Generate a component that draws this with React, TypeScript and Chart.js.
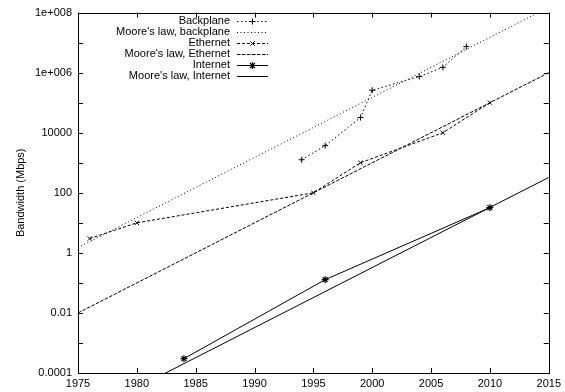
import React, { useEffect, useRef } from 'react';
import { Chart, registerables } from 'chart.js';
import { drawPoint } from 'chart.js/helpers';

Chart.register(...registerables);

// ---- Data ----
const backplaneYears = [1994, 1996, 1999, 2000, 2004, 2006, 2008];
const backplaneMbps = [1260, 3700, 32000, 260000, 740000, 1500000, 7400000];

const mooreBackplaneYears = [1975, 2015];
const mooreBackplaneMbps = [1.5, 1.5e8];

const ethernetYears = [1976, 1980, 1995, 1999, 2006, 2010];
const ethernetMbps = [3, 10, 100, 1000, 10000, 100000];

const mooreEthernetYears = [1975, 2015];
const mooreEthernetMbps = [0.01, 1e6];

const internetYears = [1984, 1996, 2010];
const internetMbps = [0.0003, 0.128, 32];

const mooreInternetYears = [1975, 2015];
const mooreInternetMbps = [3.25e-6, 325];

const xTickValues = [1975, 1980, 1985, 1990, 1995, 2000, 2005, 2010, 2015];
const xTickLabels = ['1975', '1980', '1985', '1990', '1995', '2000', '2005', '2010', '2015'];

const yTickValues = [1e-4, 1e-3, 1e-2, 1e-1, 1, 10, 100, 1e3, 1e4, 1e5, 1e6, 1e7, 1e8];
const yTickLabels = ['0.0001', '', '0.01', '', '1', '', '100', '', '10000', '', '1e+006', '', '1e+008'];

const yTitle = 'Bandwidth (Mbps)';

const FONT = "'Liberation Sans', Arial, Helvetica, sans-serif";

const pts = (xs: number[], ys: number[]) => xs.map((x, i) => ({ x, y: ys[i] }));

const framePlugin = {
  id: 'gnuplotFrame',
  afterDraw(chart: any) {
    const { ctx, chartArea, scales } = chart;
    const { left, right, top, bottom } = chartArea;
    const xs = scales.x;
    const ys = scales.y;
    ctx.save();
    ctx.strokeStyle = '#000';
    ctx.lineWidth = 1;
    ctx.setLineDash([]);
    const TL = 5;
    ctx.beginPath();
    yTickValues.forEach((v) => {
      const py = Math.round(ys.getPixelForValue(v)) + 0.5;
      ctx.moveTo(left, py);
      ctx.lineTo(left + TL, py);
      ctx.moveTo(right, py);
      ctx.lineTo(right - TL, py);
    });
    xTickValues.forEach((v) => {
      const px = Math.round(xs.getPixelForValue(v)) + 0.5;
      ctx.moveTo(px, bottom);
      ctx.lineTo(px, bottom - TL);
      ctx.moveTo(px, top);
      ctx.lineTo(px, top + TL);
    });
    ctx.stroke();
    ctx.strokeRect(Math.round(left) + 0.5, Math.round(top) + 0.5, Math.round(right - left), Math.round(bottom - top));

    // legend (gnuplot style: right-aligned text, sample at right)
    const textRight = 230;
    const sx0 = 237;
    const sx1 = 268;
    const y0 = 20.7;
    const step = 11.1;
    ctx.font = `11px ${FONT}`;
    ctx.textAlign = 'right';
    ctx.textBaseline = 'middle';
    chart.data.datasets.forEach((ds: any, i: number) => {
      const y = y0 + i * step;
      ctx.fillStyle = '#000';
      ctx.fillText(ds.label, textRight, y);
      ctx.save();
      ctx.strokeStyle = ds.borderColor;
      ctx.lineWidth = ds.borderWidth;
      ctx.setLineDash(ds.borderDash || []);
      ctx.beginPath();
      ctx.moveTo(sx0, Math.round(y) + 0.5);
      ctx.lineTo(sx1, Math.round(y) + 0.5);
      ctx.stroke();
      ctx.restore();
      if (ds.pointRadius > 0) {
        ctx.save();
        ctx.setLineDash([]);
        ctx.strokeStyle = ds.pointBorderColor;
        ctx.fillStyle = ds.pointBorderColor;
        ctx.lineWidth = ds.pointBorderWidth;
        drawPoint(ctx, { pointStyle: ds.pointStyle, radius: ds.pointRadius, rotation: 0, borderWidth: ds.pointBorderWidth } as any, (sx0 + sx1) / 2, Math.round(y) + 0.5);
        ctx.restore();
      }
    });
    ctx.restore();
  },
};

export default function App() {
  const ref = useRef<HTMLCanvasElement | null>(null);

  useEffect(() => {
    if (!ref.current) return;
    Chart.defaults.font.family = FONT;
    Chart.defaults.font.size = 11;
    Chart.defaults.color = '#000';

    const common = {
      borderColor: '#000',
      borderWidth: 1,
      tension: 0,
      fill: false,
      pointBorderColor: '#000',
      pointBackgroundColor: '#000',
    };

    const chart = new Chart(ref.current, {
      type: 'line',
      data: {
        datasets: [
          {
            ...common,
            label: 'Backplane',
            data: pts(backplaneYears, backplaneMbps),
            borderDash: [1.5, 2.5],
            pointStyle: 'cross',
            pointRadius: 3,
            pointBorderWidth: 1,
          },
          {
            ...common,
            label: "Moore's law, backplane",
            data: pts(mooreBackplaneYears, mooreBackplaneMbps),
            borderDash: [1, 2.5],
            pointRadius: 0,
            pointBorderWidth: 0,
          },
          {
            ...common,
            label: 'Ethernet',
            data: pts(ethernetYears, ethernetMbps),
            borderDash: [3, 2],
            pointStyle: 'crossRot',
            pointRadius: 3,
            pointBorderWidth: 1,
          },
          {
            ...common,
            label: "Moore's law, Ethernet",
            data: pts(mooreEthernetYears, mooreEthernetMbps),
            borderDash: [3.5, 1.5],
            pointRadius: 0,
            pointBorderWidth: 0,
          },
          {
            ...common,
            label: 'Internet',
            data: pts(internetYears, internetMbps),
            borderDash: [],
            pointStyle: 'star',
            pointRadius: 3.5,
            pointBorderWidth: 1.2,
          },
          {
            ...common,
            label: "Moore's law, Internet",
            data: pts(mooreInternetYears, mooreInternetMbps),
            borderDash: [],
            pointRadius: 0,
            pointBorderWidth: 0,
          },
        ] as any,
      },
      options: {
        animation: false,
        responsive: false,
        devicePixelRatio: 1,
        layout: { padding: { left: 0, right: 16, top: 10, bottom: 0 } },
        plugins: {
          legend: { display: false },
          tooltip: { enabled: false },
        },
        scales: {
          x: {
            type: 'linear',
            min: 1975,
            max: 2015,
            grid: { display: false, drawTicks: false },
            border: { display: false },
            afterBuildTicks: (scale: any) => {
              scale.ticks = xTickValues.map((v) => ({ value: v }));
            },
            afterFit: (scale: any) => {
              scale.height = 19;
            },
            ticks: {
              autoSkip: false,
              maxRotation: 0,
              padding: 4,
              color: '#000',
              callback: (_v: any, i: number) => xTickLabels[i],
            },
          },
          y: {
            type: 'logarithmic',
            min: 1e-4,
            max: 1e8,
            grid: { display: false, drawTicks: false },
            border: { display: false },
            afterBuildTicks: (scale: any) => {
              scale.ticks = yTickValues.map((v) => ({ value: v }));
            },
            afterFit: (scale: any) => {
              scale.width = 78;
            },
            ticks: {
              autoSkip: false,
              padding: 6,
              color: '#000',
              callback: (_v: any, i: number) => yTickLabels[i],
            },
            title: {
              display: true,
              text: yTitle,
              color: '#000',
              font: { size: 11 },
              padding: { top: 14, bottom: 0 },
            },
          },
        },
      } as any,
      plugins: [framePlugin],
    });
    return () => chart.destroy();
  }, []);

  return (
    <div style={{ position: 'absolute', left: 0, top: 0, width: 565, height: 392, background: '#fff' }}>
      <canvas ref={ref} width={565} height={392} style={{ display: 'block', width: 565, height: 392 }} />
    </div>
  );
}
